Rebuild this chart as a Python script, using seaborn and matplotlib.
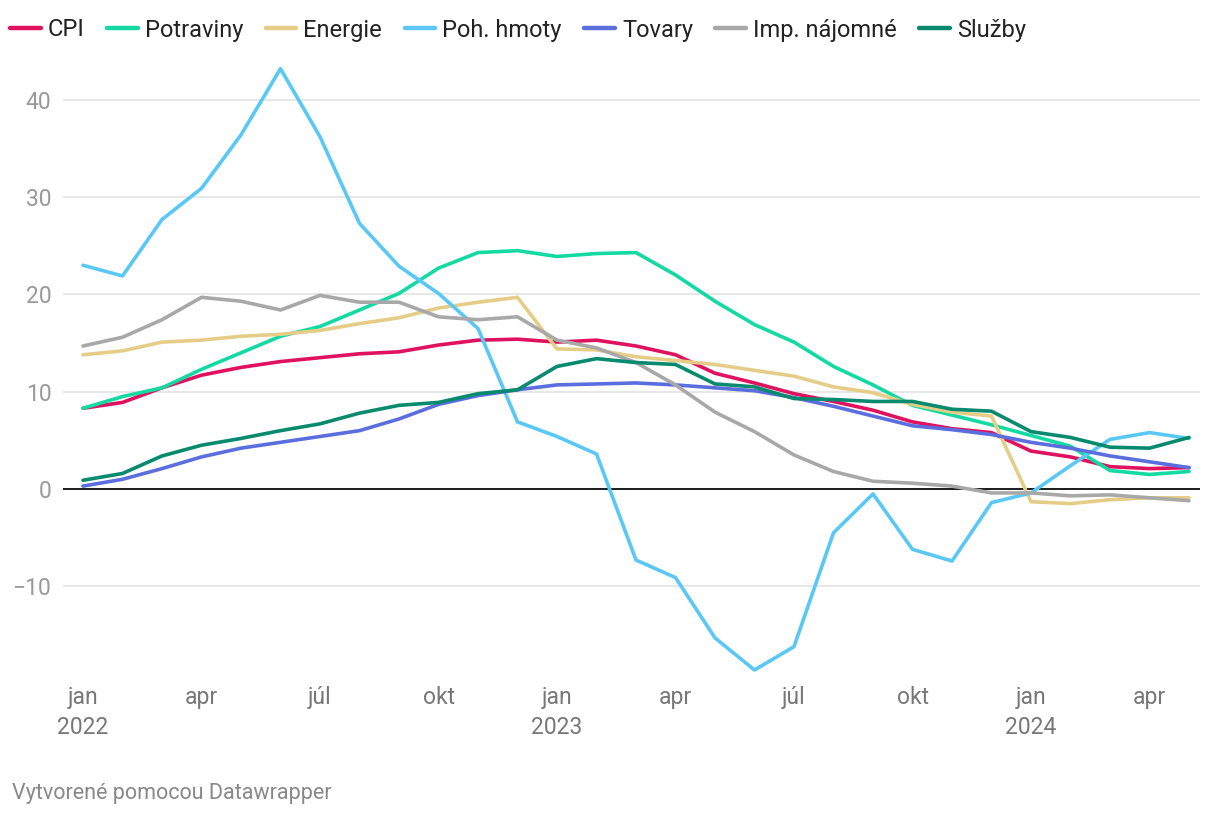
import pandas as pd
import matplotlib
matplotlib.use("Agg")
import matplotlib.pyplot as plt
import seaborn as sns

# Monthly data, jan 2022 - máj 2024
months = pd.date_range("2022-01-01", "2024-05-01", freq="MS")

cpi = [8.3, 8.9, 10.4, 11.7, 12.5, 13.1, 13.5, 13.9, 14.1, 14.8, 15.3, 15.4,
       15.1, 15.3, 14.7, 13.8, 11.9, 10.9, 9.8, 9.0, 8.1, 6.9, 6.2, 5.8,
       3.9, 3.3, 2.3, 2.1, 2.2]
potraviny = [8.3, 9.5, 10.4, 12.3, 14.0, 15.7, 16.7, 18.4, 20.1, 22.7, 24.3, 24.5,
             23.9, 24.2, 24.3, 22.0, 19.3, 16.9, 15.1, 12.6, 10.7, 8.6, 7.6, 6.6,
             5.5, 4.4, 1.9, 1.5, 1.8]
energie = [13.8, 14.2, 15.1, 15.3, 15.7, 15.9, 16.3, 17.0, 17.6, 18.6, 19.2, 19.7,
           14.4, 14.3, 13.6, 13.2, 12.8, 12.2, 11.6, 10.5, 9.9, 8.7, 7.9, 7.5,
           -1.3, -1.5, -1.1, -0.9, -0.9]
poh_hmoty = [23.0, 21.9, 27.7, 30.9, 36.4, 43.2, 36.2, 27.3, 22.9, 20.1, 16.5, 6.9,
             5.4, 3.6, -7.3, -9.1, -15.3, -18.6, -16.2, -4.5, -0.5, -6.2, -7.4, -1.4,
             -0.4, 2.4, 5.1, 5.8, 5.2]
tovary = [0.3, 1.0, 2.1, 3.3, 4.2, 4.8, 5.4, 6.0, 7.2, 8.7, 9.6, 10.2,
          10.7, 10.8, 10.9, 10.7, 10.4, 10.1, 9.4, 8.5, 7.5, 6.5, 6.1, 5.6,
          4.8, 4.2, 3.4, 2.8, 2.2]
imp_najomne = [14.7, 15.6, 17.4, 19.7, 19.3, 18.4, 19.9, 19.2, 19.2, 17.7, 17.4, 17.7,
               15.3, 14.5, 13.0, 10.7, 7.9, 5.9, 3.5, 1.8, 0.8, 0.6, 0.3, -0.4,
               -0.4, -0.7, -0.6, -0.9, -1.2]
sluzby = [0.9, 1.6, 3.4, 4.5, 5.2, 6.0, 6.7, 7.8, 8.6, 8.9, 9.8, 10.2,
          12.6, 13.4, 13.0, 12.8, 10.8, 10.5, 9.3, 9.2, 9.0, 9.0, 8.2, 8.0,
          5.9, 5.3, 4.3, 4.2, 5.3]

series_names = ["CPI", "Potraviny", "Energie", "Poh. hmoty", "Tovary", "Imp. nájomné", "Služby"]
series_values = [cpi, potraviny, energie, poh_hmoty, tovary, imp_najomne, sluzby]
colors = ["#e0115f", "#13d9a3", "#e6cd87", "#5ac8f5", "#5a6ede", "#a8a8a8", "#078a6d"]

x_ticks = [0, 3, 6, 9, 12, 15, 18, 21, 24, 27]
x_labels = ["jan\n2022", "apr", "júl", "okt", "jan\n2023", "apr", "júl", "okt", "jan\n2024", "apr"]
y_ticks = [-10, 0, 10, 20, 30, 40]

# long table for seaborn
df = pd.concat(
    [pd.DataFrame({"i": range(len(months)), "value": v, "series": n})
     for n, v in zip(series_names, series_values)],
    ignore_index=True,
)

sns.set_style("white")
plt.rcParams["font.family"] = ["Roboto", "DejaVu Sans"]

fig = plt.figure(figsize=(12.2, 8.16), dpi=100)
ax = fig.add_axes([63 / 1220, (816 - 673.9) / 816, (1200 - 63) / 1220, (673.9 - 60.9) / 816])

# gridlines
for y in y_ticks:
    if y == 0:
        ax.axhline(0, color="#1a1a1a", lw=1.4, zorder=3)
    else:
        ax.axhline(y, color="#e3e3e3", lw=1.2, zorder=0)

sns.lineplot(data=df, x="i", y="value", hue="series", hue_order=series_names,
             palette=colors, linewidth=2.6, ax=ax, legend=False, zorder=4)

px_per_month = (1189 - 83) / 28
ax.set_xlim(-(83 - 63) / px_per_month, 28 + (1200 - 1189) / px_per_month)
ax.set_ylim(-19, 44)

ax.set_xticks(x_ticks)
ax.set_xticklabels(x_labels, color="#777777", fontsize=16.5, linespacing=1.35)
ax.set_yticks(y_ticks)
ax.set_yticklabels([f"{t}".replace("-", "\u2212") for t in y_ticks], color="#999999", fontsize=16.5)
ax.tick_params(axis="both", length=0)
ax.tick_params(axis="y", pad=8.5)
ax.tick_params(axis="x", pad=9)
ax.set_xlabel("")
ax.set_ylabel("")
for s in ax.spines.values():
    s.set_visible(False)

# legend on top
handles = [plt.Line2D([0], [0], color=c, lw=3.2, solid_capstyle="round") for c in colors]
fig.legend(handles, series_names, loc="center left", bbox_to_anchor=(10 / 1220, 1 - 30 / 816),
           ncol=7, frameon=False, borderpad=0, borderaxespad=0,
           handlelength=1.3, handletextpad=0.3, columnspacing=0.95,
           fontsize=17, labelcolor="#222222")

fig.text(12 / 1220, 1 - 793 / 816, "Vytvorené pomocou Datawrapper", color="#888888",
         fontsize=15.5, va="center", ha="left")

fig.savefig("out.png", dpi=100)
